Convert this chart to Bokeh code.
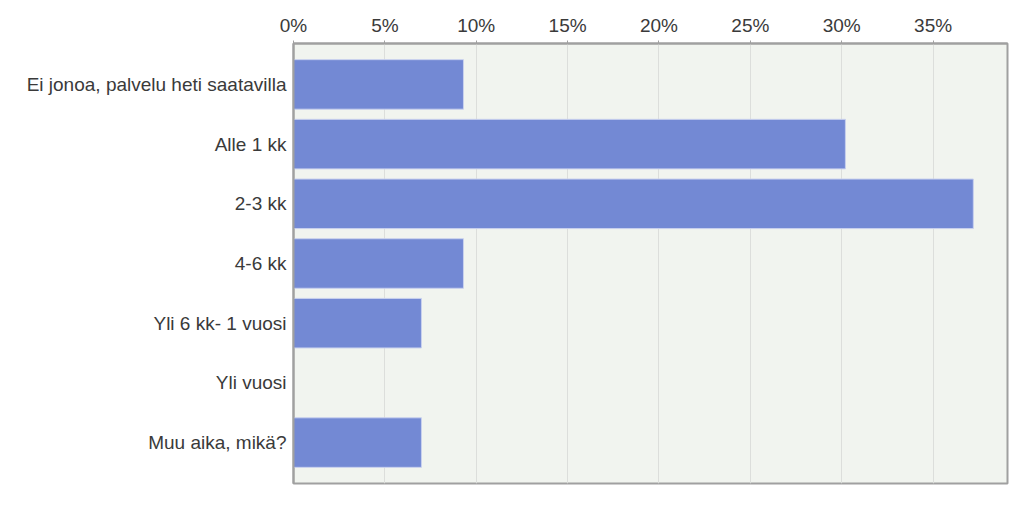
from bokeh.plotting import figure
from bokeh.models import FactorRange, Range1d, FixedTicker, PrintfTickFormatter
from bokeh.embed import file_html
from bokeh.resources import INLINE

categories = ["Ei jonoa, palvelu heti saatavilla", "Alle 1 kk", "2-3 kk", "4-6 kk",
              "Yli 6 kk- 1 vuosi", "Yli vuosi", "Muu aika, mikä?"]
values = [9.3, 30.2, 37.2, 9.3, 7.0, 0.0, 7.0]
x_ticks = [0, 5, 10, 15, 20, 25, 30, 35]

factors = list(reversed(categories))
p = figure(width=1023, height=509, output_backend="svg", toolbar_location=None,
           y_range=FactorRange(*factors, range_padding=0.053),
           x_range=Range1d(0, 39.07), x_axis_location="above",
           min_border_left=293, min_border_right=16, min_border_top=43, min_border_bottom=26)

p.hbar(y=categories, right=values, height=0.83, left=0,
       fill_color="#7389d4", line_color="#c9d1ee", line_width=1)

p.background_fill_color = "#f1f4ef"
p.border_fill_color = "white"
p.outline_line_color = "#a0a0a0"
p.outline_line_width = 2

p.xgrid.ticker = FixedTicker(ticks=x_ticks)
p.xgrid.grid_line_color = "#dcdedb"
p.ygrid.grid_line_color = None

xa = p.xaxis[0]
xa.ticker = FixedTicker(ticks=x_ticks)
xa.formatter = PrintfTickFormatter(format="%d%%")
xa.axis_line_color = "#a0a0a0"
xa.axis_line_width = 2
xa.major_tick_line_color = "#a0a0a0"
xa.major_tick_out = 3
xa.major_tick_in = 0
xa.minor_tick_line_color = None
xa.major_label_text_font = "Liberation Sans"
xa.major_label_text_font_size = "19px"
xa.major_label_text_color = "#3a3a3a"
xa.major_label_standoff = 5

ya = p.yaxis[0]
ya.axis_line_color = "#a0a0a0"
ya.axis_line_width = 2
ya.major_tick_line_color = None
ya.minor_tick_line_color = None
ya.major_label_text_font = "Liberation Sans"
ya.major_label_text_font_size = "19px"
ya.major_label_text_color = "#3a3a3a"
ya.major_label_standoff = 1

open("out.html", "w").write(file_html(p, INLINE))
